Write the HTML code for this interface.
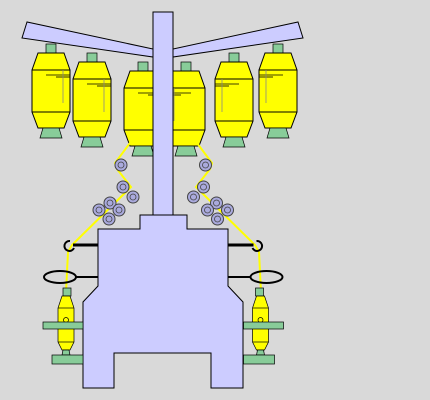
<!DOCTYPE html>
<html><head><meta charset="utf-8"><style>html,body{margin:0;padding:0;background:#d9d9d9}svg{display:block}</style></head>
<body>
<svg width="430" height="400" viewBox="0 0 430 400">
<rect width="430" height="400" fill="#d9d9d9"/>
<g stroke="#000" stroke-width="1" fill="#ccccff">
<polygon points="27,22 22,38 153,57 153,49"/>
<polygon points="298,22 303,38 173,57 173,49"/>
</g>
<g id="bobbins"></g>
<g stroke="#ffff00" stroke-width="2" fill="none">
<polyline points="130,143 115,163 117,169 131,187 72,245 68,252 66,292"/>
<polyline points="197,143 212,163 210,169 196,187 255,245 259,252 261,292"/>
</g>
<g id="guides"></g>
<rect x="153" y="12" width="20" height="205" fill="#ccccff" stroke="#000"/>
<polygon points="140,215 187,215 187,229 228,229 228,286 243,302 243,388 211,388 211,353 114,353 114,388 83,388 83,302 98,286 98,229 140,229" fill="#ccccff" stroke="#000"/>
<g id="left-lower">
<line x1="73" y1="245" x2="98" y2="245" stroke="#000" stroke-width="3"/>
<path d="M70,241 A5,5 0 1 0 74,248" fill="none" stroke="#000" stroke-width="2"/>
<line x1="75" y1="277" x2="98" y2="277" stroke="#000" stroke-width="2"/>
<ellipse cx="60" cy="277" rx="16" ry="6" fill="none" stroke="#000" stroke-width="2"/>
<rect x="63" y="288" width="8" height="8" fill="#88cc99" stroke="#000" stroke-width="0.7"/>
<polygon points="62,296 70,296 74,308 74,342 70,350 62,350 58,342 58,308" fill="#ffff00" stroke="#000" stroke-width="0.7"/>
<line x1="58" y1="308" x2="74" y2="308" stroke="#000" stroke-width="0.7"/>
<line x1="58" y1="342" x2="74" y2="342" stroke="#000" stroke-width="0.7"/>
<circle cx="66" cy="320" r="2.5" fill="#ffff00" stroke="#000" stroke-width="0.7"/>
<rect x="43" y="322" width="40" height="7" fill="#88cc99" stroke="#000" stroke-width="0.7"/>
<polygon points="63,350 69,350 70,355 62,355" fill="#88cc99" stroke="#000" stroke-width="0.7"/>
<rect x="52" y="355" width="31" height="9" fill="#88cc99" stroke="#000" stroke-width="0.7"/>
</g>
<use href="#left-lower" transform="translate(326.5,0) scale(-1,1)"/>
<script>
const bobbinX=[51,92,143,186,234,278];
const bobbinTop=[44,53,62,62,53,44];
const NS='http://www.w3.org/2000/svg';
const bg=document.getElementById('bobbins');
function mk(tag,attrs,parent){const e=document.createElementNS(NS,tag);for(const k in attrs)e.setAttribute(k,attrs[k]);parent.appendChild(e);return e;}
bobbinX.forEach((cx,i)=>{
  const t=bobbinTop[i];
  const g=mk('g',{},bg);
  
  
  mk('rect',{x:cx-5,y:t,width:10,height:9,fill:'#88cc99',stroke:'#000','stroke-width':0.7},g);
  const y1=t+9,y2=y1+17,y3=y2+42,y4=y3+16;
  mk('polygon',{points:`${cx-13},${y1} ${cx+13},${y1} ${cx+19},${y2} ${cx+19},${y3} ${cx+13},${y4} ${cx-13},${y4} ${cx-19},${y3} ${cx-19},${y2}`,fill:'#ffff00',stroke:'#000','stroke-width':1},g);
  mk('line',{x1:cx-19,y1:y2,x2:cx+19,y2:y2,stroke:'#000','stroke-width':1},g);
  mk('line',{x1:cx-19,y1:y3,x2:cx+19,y2:y3,stroke:'#000','stroke-width':1},g);
  const d=i<3?1:-1;
  mk('line',{x1:cx-d*5,y1:y2+5,x2:cx+d*19,y2:y2+5,stroke:'#000','stroke-width':0.8},g);
  mk('line',{x1:cx+d*5,y1:y2+7,x2:cx+d*19,y2:y2+7,stroke:'#000','stroke-width':0.8},g);
  mk('line',{x1:cx+d*12,y1:y2,x2:cx+d*12,y2:y2+33,stroke:'#888','stroke-width':0.8},g);
  mk('polygon',{points:`${cx-8},${y4} ${cx+8},${y4} ${cx+11},${y4+10} ${cx-11},${y4+10}`,fill:'#88cc99',stroke:'#000','stroke-width':0.7},g);
});
const guideX=[121,123,133,110,99,119,109];
const guideY=[165,187,197,203,210,210,219];
const gg=document.getElementById('guides');
[false,true].forEach(m=>{guideX.forEach((x,i)=>{
  const cx=m?326.5-x:x, cy=guideY[i];
  const c=mk('g',{},gg);
  
  
  mk('circle',{cx:cx,cy:cy,r:6,fill:'#aaaadd',stroke:'#444','stroke-width':1},c);
  mk('circle',{cx:cx,cy:cy,r:3,fill:'none',stroke:'#444','stroke-width':0.8},c);
});});
</script>
</svg>
</body></html>
